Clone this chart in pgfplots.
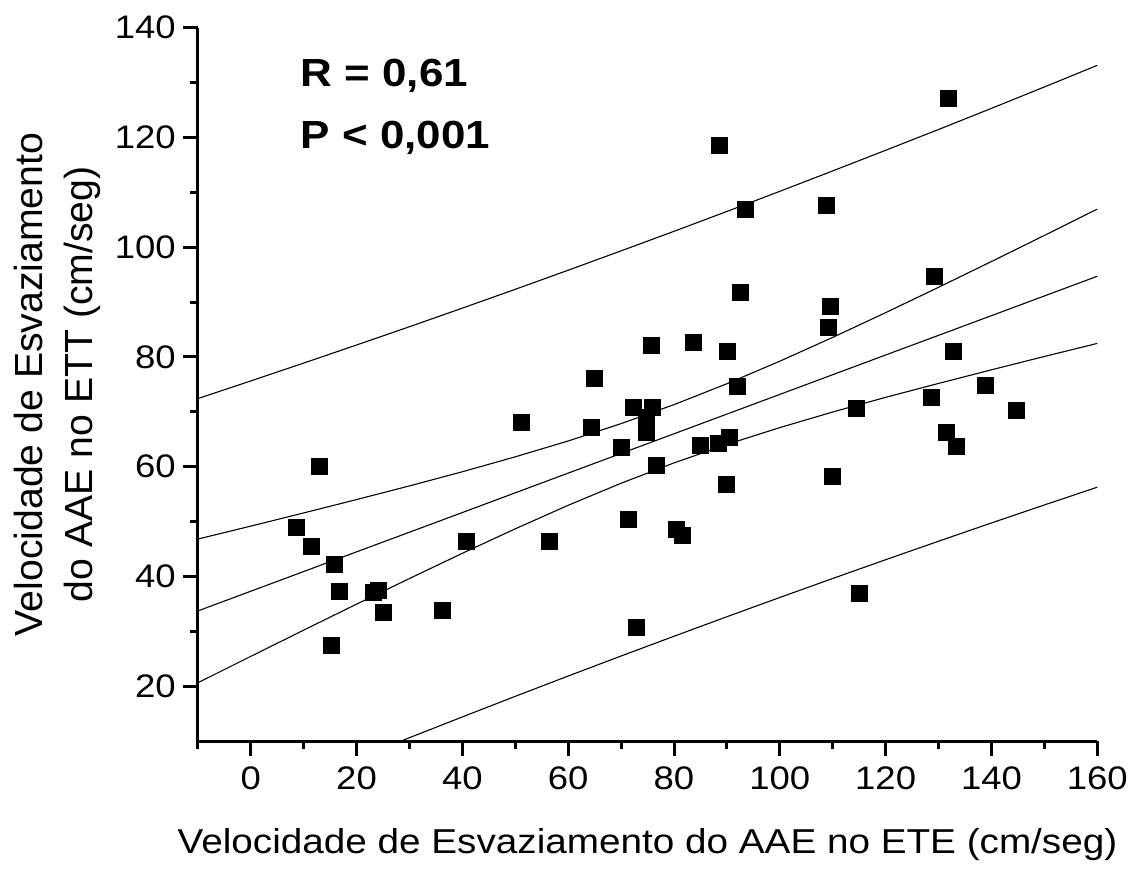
\documentclass[border=0pt]{standalone}
\usepackage{fontspec}
\setmainfont{Liberation Sans}[FakeStretch=1.12]
\newfontfamily\ylabfont{Liberation Sans}
\usepackage{pgfplots}
\usepackage{pgfplotstable}
\pgfplotsset{compat=1.18}
\pgfplotstableread{
x y
8.6 48.9
11.5 45.5
13.0 60.0
15.3 27.5
15.7 42.3
16.7 37.3
23.2 37.1
24.1 37.5
25.1 33.4
36.2 33.8
40.7 46.4
51.1 68.1
56.4 46.4
64.4 67.2
64.9 76.1
70.0 63.5
71.3 50.4
72.3 70.9
72.8 30.7
74.7 69.1
74.8 66.2
75.7 82.2
75.8 70.9
76.7 60.2
80.5 48.6
81.6 47.5
83.7 82.6
84.9 63.9
88.4 64.3
88.6 118.6
89.8 56.8
90.0 81.1
90.4 65.3
91.9 74.7
92.5 91.8
93.4 106.9
108.7 107.6
109.1 85.4
109.6 89.2
109.9 58.2
114.4 70.7
115.0 37.0
128.6 72.6
129.1 94.8
131.4 66.3
131.9 127.1
132.8 81.0
133.4 63.7
138.8 74.9
144.6 70.2
}\pts
\pgfplotstableread{
x reg cu cl pu pl
-10 33.70 46.80 20.60 72.40 -5.00
0 37.29 49.16 25.42 75.62 -1.04
10 40.88 51.56 30.20 78.87 2.89
20 44.47 54.00 34.94 82.17 6.77
30 48.05 56.49 39.61 85.50 10.60
40 51.64 59.07 44.21 88.89 14.39
50 55.23 61.79 48.67 92.32 18.14
60 58.82 64.68 52.96 95.80 21.84
70 62.41 67.84 56.98 99.33 25.49
80 65.99 71.30 60.68 102.89 29.09
90 69.58 75.11 64.05 106.51 32.65
100 73.17 79.22 67.12 110.18 36.16
110 76.76 83.56 69.96 113.90 39.62
120 80.35 88.07 72.63 117.66 43.04
130 83.93 92.69 75.17 121.45 46.41
140 87.52 97.39 77.65 125.30 49.74
150 91.11 102.14 80.08 129.20 53.02
160 94.70 106.94 82.46 133.14 56.26
}\bands
\begin{document}
\begin{tikzpicture}
\path[use as bounding box] (-98.9pt,-64pt) rectangle (466.6pt,370.5pt);
\begin{axis}[
  at={(0,0)}, anchor=south west,
  scale only axis, width=449.75pt, height=356.65pt,
  xmin=-10, xmax=160, ymin=10, ymax=140,
  axis x line=bottom, axis y line=left,
  axis line style={-, line width=1.5pt, black},
  xtick={0,20,...,160}, ytick={20,40,...,140},
  minor xtick={-10,10,...,150}, minor ytick={30,50,...,130},
  tick align=outside, major tick length=7.5pt, minor tick length=4pt,
  every tick/.style={line width=1.5pt, black},
  xticklabel style={font=\fontsize{16.3}{19}\selectfont, yshift=-2pt},
  yticklabel style={font=\fontsize{16.3}{19}\selectfont},
  /pgf/number format/assume math mode=true,
  xlabel={Velocidade de Esvaziamento do AAE no ETE (cm/seg)},
  xlabel style={font=\fontsize{17.27}{20}\selectfont, at={(axis description cs:0.5,-0.1584)}, anchor=base},
  ylabel={Velocidade de Esvaziamento\\do AAE no ETT (cm/seg)},
  ylabel style={font=\ylabfont\fontsize{19.6}{25}\selectfont, align=center, at={(axis description cs:-0.1565,0.5)}, anchor=center},
]
\addplot[black, line width=0.55pt] table[x=x, y=reg] {\bands};
\addplot[black, line width=0.55pt] table[x=x, y=cu] {\bands};
\addplot[black, line width=0.55pt] table[x=x, y=cl] {\bands};
\addplot[black, line width=0.55pt] table[x=x, y=pu] {\bands};
\addplot[black, line width=0.55pt] table[x=x, y=pl] {\bands};
\addplot[only marks, mark=square*, mark size=4pt, black, mark options={line width=0.2pt}] table[x=x, y=y] {\pts};
\node[anchor=base west, font=\bfseries\fontsize{19.6}{22}\selectfont, inner sep=0pt] at (axis cs:9.4,129.2) {R = 0,61};
\node[anchor=base west, font=\bfseries\fontsize{19.6}{22}\selectfont, inner sep=0pt] at (axis cs:9.4,118.0) {P < 0,001};
\end{axis}
\end{tikzpicture}
\end{document}
